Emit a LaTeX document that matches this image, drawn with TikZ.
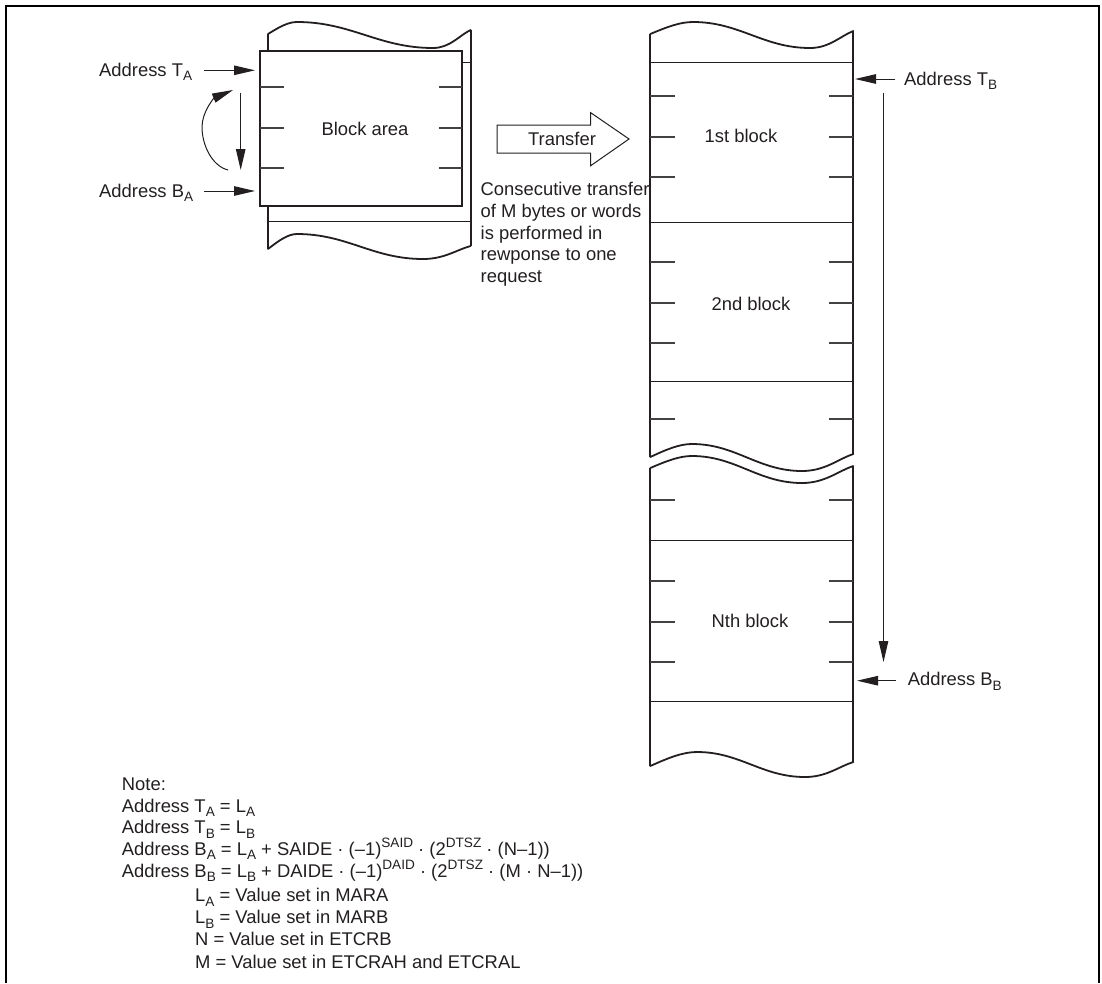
\documentclass[tikz,border=0pt]{standalone}
\usepackage{fontspec}
\setmainfont{Liberation Sans}
\usetikzlibrary{arrows.meta}
\newcommand{\dnt}[1]{\raisebox{-0.27em}{\fontsize{13.6}{13.6}\selectfont #1}}
\newcommand{\upt}[1]{\raisebox{0.42em}{\fontsize{13.6}{13.6}\selectfont #1}}
\definecolor{ink}{HTML}{231F20}
\tikzset{
  x=1pt,y=-1pt,
  txt/.style={inner sep=0pt,text=ink,font=\fontsize{18.4}{22}\selectfont},
  lab/.style={txt,anchor=base west},
  thick line/.style={draw=ink,line width=1.8pt},
  thin line/.style={draw=ink,line width=1pt},
  tickline/.style={draw=ink!85,line width=1.1pt},
  arr/.style={draw=ink,line width=1pt,-{Triangle[length=21pt,width=9.5pt]}},
  frame/.style={draw=black,line width=2.4pt}
}
\newcommand{\wave}[8]{(#1,#2) .. controls ({#1+0.4*(#3-#1)},{#4+0.4*(#2-#4)}) and ({#3-0.3*(#3-#1)},#4) .. (#3,#4) .. controls ({#3+0.4*(#5-#3)},#4) and ({#5-0.4*(#5-#3)},#6) .. (#5,#6) .. controls ({#5+0.45*(#7-#5)},#6) and ({#7-0.3*(#7-#5)},{#8+0.3*(#6-#8)}) .. (#7,#8)}
\begin{document}
\begin{tikzpicture}
\useasboundingbox (0,0) rectangle (1102,983);
% outer frame, open at the bottom
\draw[frame] (6,983) -- (6,5.8) -- (1099,5.8) -- (1099,983);

% left stack
\draw[thick line,line cap=round] \wave{268}{34}{297}{22}{433}{48}{470.6}{30};
\draw[thick line,line cap=round] \wave{268}{249}{297}{234}{423}{259}{470.6}{246};
\draw[thick line] (268,34) -- (268,249);
\draw[thick line] (470.6,30) -- (470.6,246);
\draw[thin line] (462,62) -- (470.6,62);
\draw[thin line] (268,221.7) -- (470.6,221.7);
\node[draw=ink,line width=2pt,fill=white,minimum width=202pt,minimum height=154.7pt,inner sep=0pt,outer sep=0pt,anchor=north west] (box) at (260,51) {};
\foreach \y in {87,128,168}{
  \draw[tickline] (260,\y) -- (284,\y);
  \draw[tickline] (439,\y) -- (462,\y);
}
\node[txt] (blockarea) at (365,129) {Block area};

% left labels and arrows
\node[lab] (ta) at (99,76) {Address T\dnt{A}};
\node[lab] (ba) at (99,197) {Address B\dnt{A}};
\coordinate (tas) at (204,70.3);
\coordinate (tae) at (255,70.3);
\coordinate (bas) at (204,191);
\coordinate (bae) at (255,191);
\draw[arr] (tas) -- (tae);
\draw[arr] (bas) -- (bae);
\coordinate (vs) at (240.7,92.7);
\coordinate (ve) at (240.7,170);
\draw[arr] (vs) -- (ve);
\coordinate (cs) at (228,170);
\coordinate (ce) at (233,90);
\draw[arr] (cs) .. controls (212,166) and (202,145) .. (202,127) .. controls (202,112) and (214,98) .. (ce);

% transfer arrow
\draw[draw=ink,line width=1pt] (497,125) -- (590.7,125) -- (590.7,112.7) -- (629,139) -- (590.7,165.7) -- (590.7,153) -- (497,153) -- cycle;
\node[txt] (transfer) at (562,139) {Transfer};

% right stack
\draw[thick line,line cap=round] \wave{650.3}{34}{693}{22}{810}{48}{853.3}{31};
\draw[thick line,line cap=round] \wave{650.3}{457}{692}{444}{802}{471}{853.3}{454};
\draw[thick line,line cap=round] \wave{650.3}{468}{692}{456}{802}{483}{853.3}{466};
\draw[thick line,line cap=round] \wave{650.3}{766}{697}{752}{805}{777}{853.3}{762};
\draw[thick line] (650.3,34) -- (650.3,457);
\draw[thick line] (853.3,31) -- (853.3,454);
\draw[thick line] (650.3,468) -- (650.3,766);
\draw[thick line] (853.3,466) -- (853.3,762);
\foreach \y in {62,222,381,540,701}{
  \draw[thin line] (650.3,\y) -- (853.3,\y);
}
\foreach \y in {96,137,177,262,303,343,419,500,581,622,662}{
  \draw[tickline] (650.3,\y) -- (675,\y);
  \draw[tickline] (829,\y) -- (853.3,\y);
}
\node[txt] (b1) at (741,136) {1st block};
\node[txt] (b2) at (751,304) {2nd block};
\node[txt] (bn) at (750,621) {Nth block};

% right labels and arrows
\node[lab] (tb) at (904,85) {Address T\dnt{B}};
\node[lab] (bb) at (907.6,685.5) {Address B\dnt{B}};
\coordinate (tbs) at (895,79);
\coordinate (tbe) at (855,79);
\coordinate (bbs) at (896,680.7);
\coordinate (bbe) at (857,680.7);
\draw[arr] (tbs) -- (tbe);
\draw[arr] (bbs) -- (bbe);
\coordinate (ls) at (883.5,92.7);
\coordinate (le) at (883.5,662);
\draw[arr] (ls) -- (le);

% description
\node[lab] (c1) at (480.5,195) {Consecutive transfer};
\node[lab] (c2) at (480.5,217) {of M bytes or words};
\node[lab] (c3) at (480.5,239) {is performed in};
\node[lab] (c4) at (480.5,260.5) {rewponse to one};
\node[lab] (c5) at (480.5,282) {request};

% note
\node[lab] (n0) at (121.7,790) {Note:};
\node[lab] (n1) at (121.7,812) {Address T\dnt{A} = L\dnt{A}};
\node[lab] (n2) at (121.7,833.5) {Address T\dnt{B} = L\dnt{B}};
\node[lab] (n3) at (121.7,855) {Address B\dnt{A} = L\dnt{A} + SAIDE · (–1)\upt{SAID} · (2\upt{DTSZ} · (N–1))};
\node[lab] (n4) at (121.7,877) {Address B\dnt{B} = L\dnt{B} + DAIDE · (–1)\upt{DAID} · (2\upt{DTSZ} · (M · N–1))};
\node[lab] (n5) at (195,901.5) {L\dnt{A} = Value set in MARA};
\node[lab] (n6) at (195,923.5) {L\dnt{B} = Value set in MARB};
\node[lab] (n7) at (195,945.5) {N = Value set in ETCRB};
\node[lab] (n8) at (195,968) {M = Value set in ETCRAH and ETCRAL};
\end{tikzpicture}
\end{document}
